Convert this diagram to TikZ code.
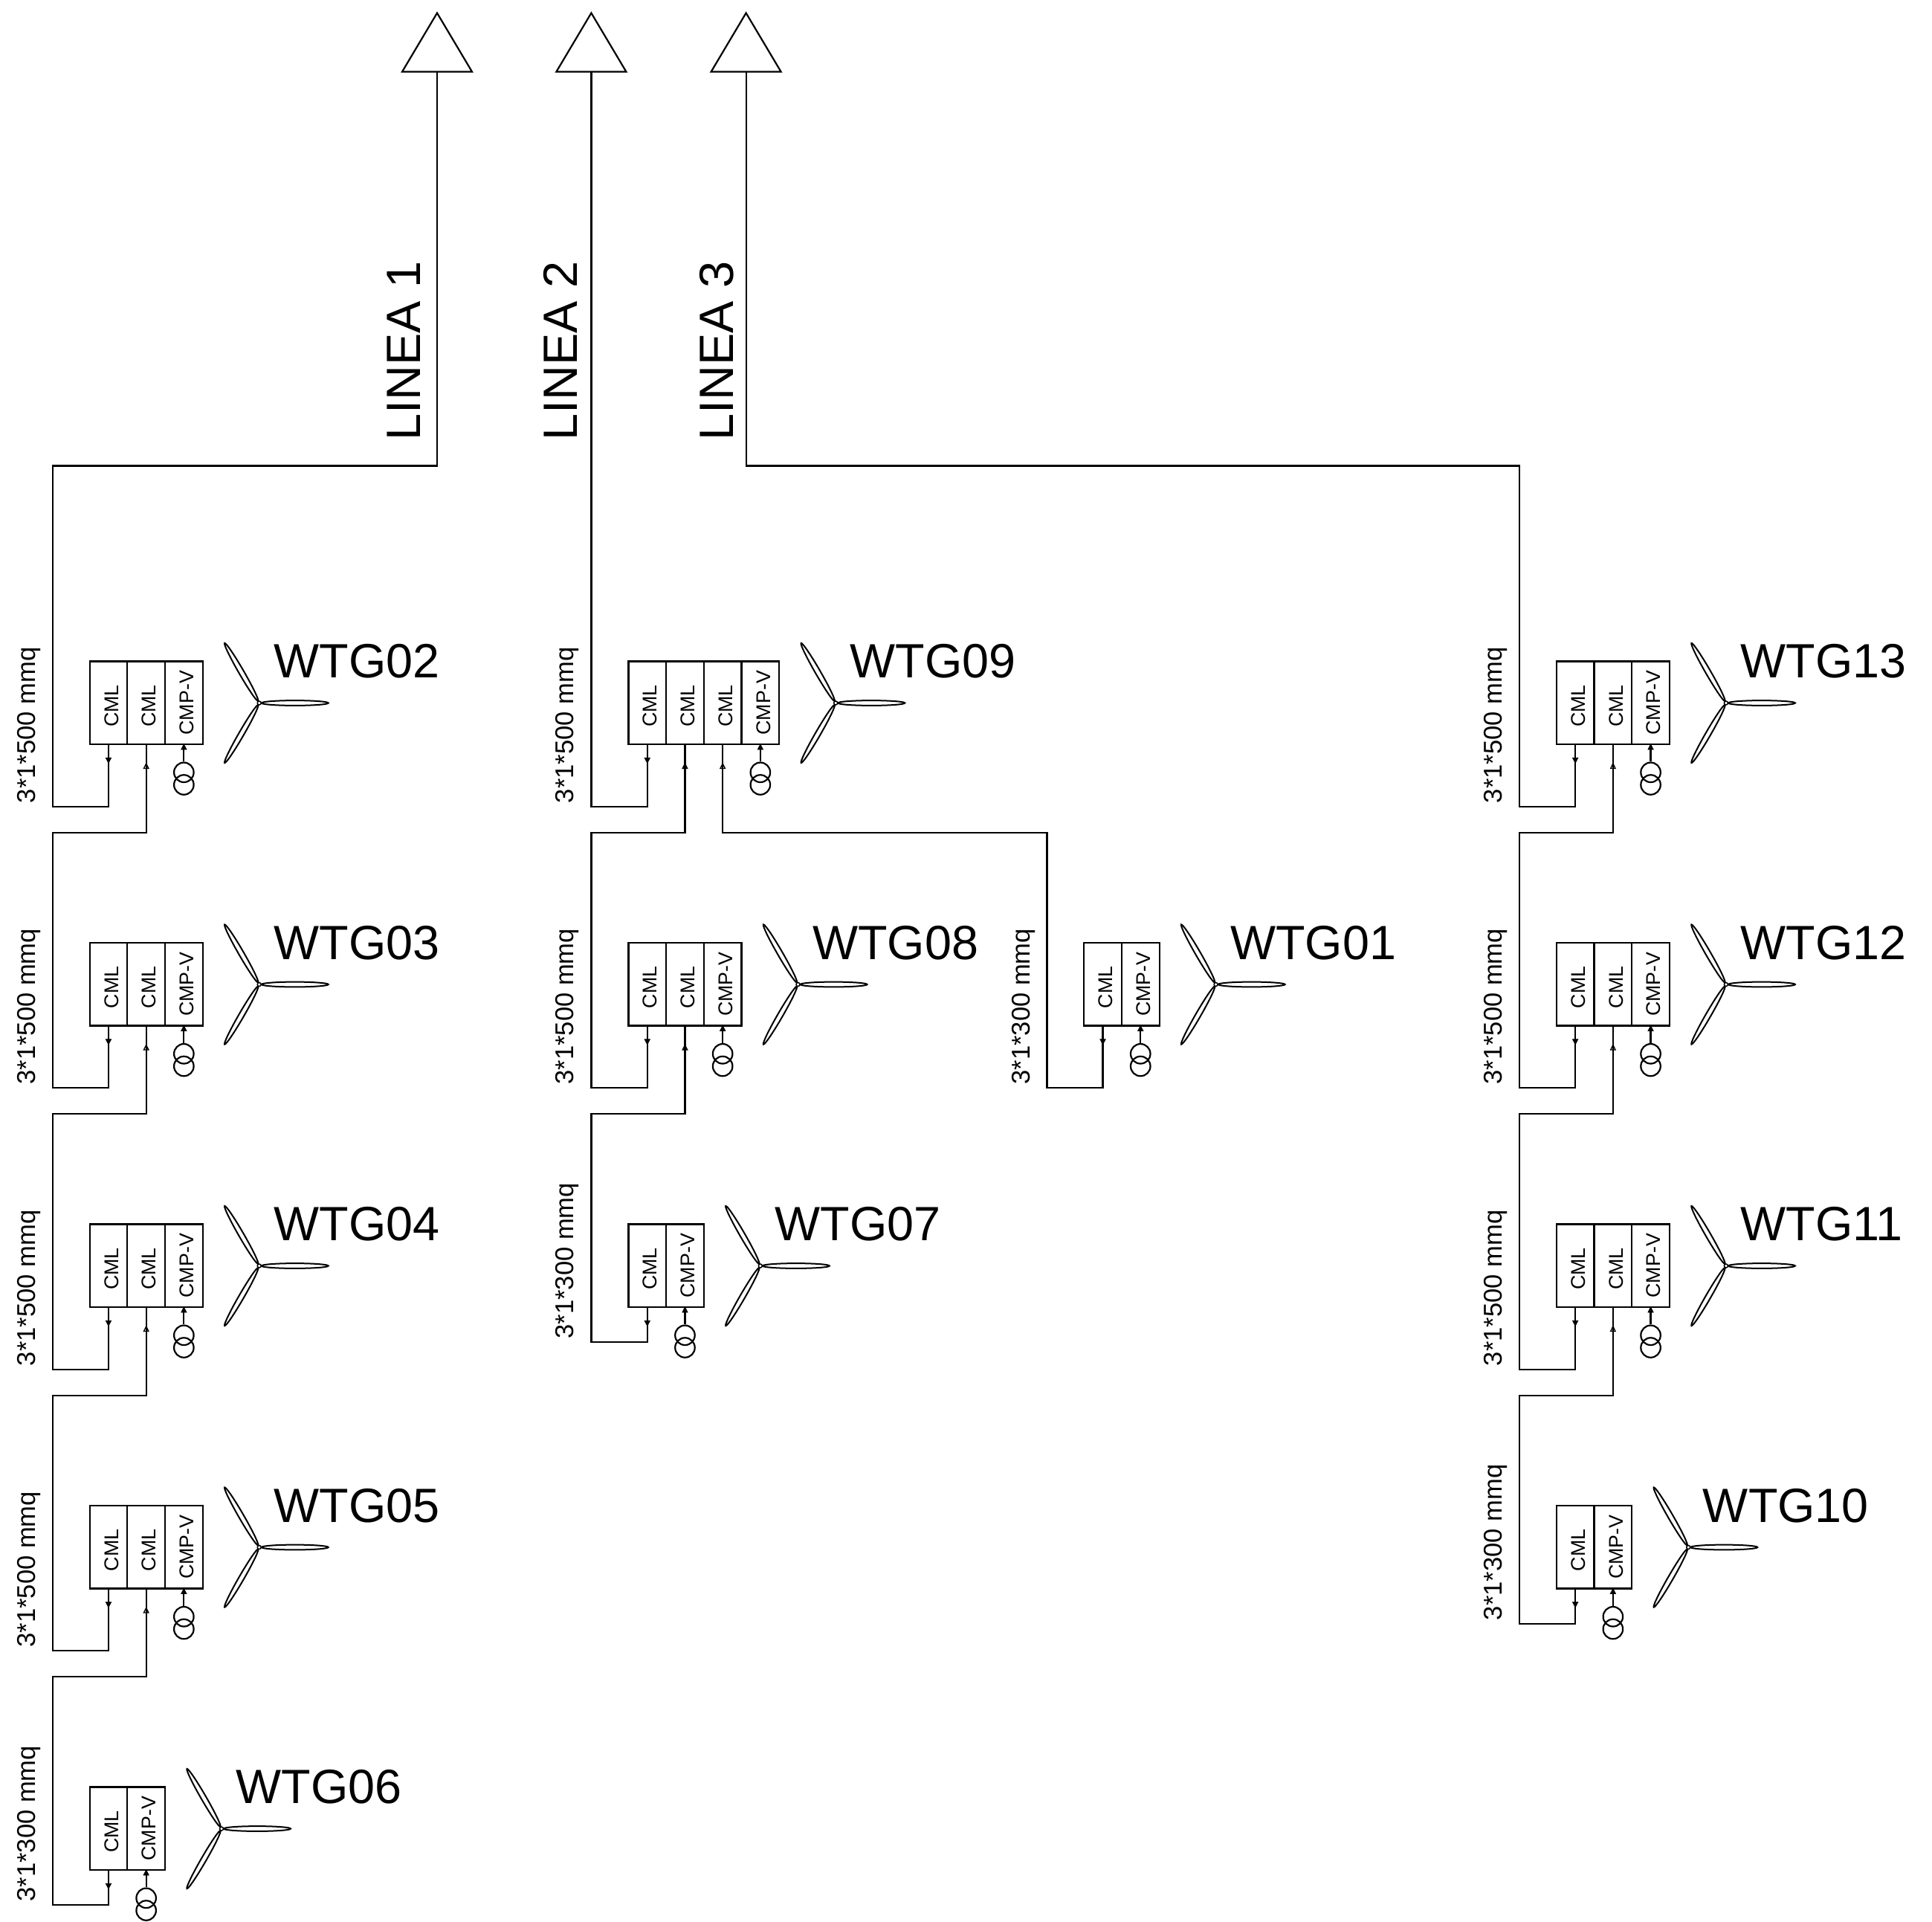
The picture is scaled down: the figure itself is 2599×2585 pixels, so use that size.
\documentclass[tikz,border=0pt]{standalone}
\usepackage{fontspec}
\setmainfont{Liberation Sans}
\tikzset{
  wire/.style={draw=black,line width=2.2pt,line join=miter},
  cellbox/.style={draw=black,line width=2.2pt,rectangle,inner sep=0pt,outer sep=0pt,minimum width=50.7pt,minimum height=111.5pt,anchor=north west},
  celltxt/.style={rotate=90,anchor=base,inner sep=0pt,font=\fontsize{26.8}{27}\selectfont},
  cabletxt/.style={rotate=90,anchor=base west,inner sep=0pt,font=\fontsize{34.6}{36}\selectfont},
  bigtxt/.style={anchor=base west,inner sep=0pt,font=\fontsize{64.7}{65}\selectfont},
  linetxt/.style={rotate=90,anchor=base west,inner sep=0pt,font=\fontsize{64.8}{65}\selectfont},
  hubdot/.style={circle,draw=black,fill=white,line width=1.5pt,inner sep=0pt,minimum size=5pt},
  xfmr/.style={circle,draw=black,line width=2.2pt,inner sep=0pt,minimum size=26.5pt},
  blade/.style={draw=black,line width=2pt,fill=white},
  tipblack/.style={draw=black,fill=black,line width=.8pt},
  tipwhite/.style={draw=black,fill=white,line width=1.4pt}
}
% name, left, top, text shift
\newcommand{\wcell}[4]{%
  \node[cellbox] (#1) at (#2,#3) {};
  \node[celltxt] (#1t) at ([xshift=13.2pt,yshift=#4]#1.center) {\ifdim#4=-4.2pt CML\else CMP-V\fi};
}
% name, left, top, number of CML cells, label
\newcommand{\wtg}[5]{%
  \pgfmathsetmacro{\xa}{#2}
  \pgfmathsetmacro{\xb}{#2+50.7}
  \pgfmathsetmacro{\xc}{#2+101.4}
  \pgfmathsetmacro{\xv}{#2+50.7*#4}
  \pgfmathsetmacro{\xh}{\xv+50.7+76}
  \pgfmathsetmacro{\yh}{#3+56}
  \wcell{#1a}{\xa}{#3}{-4.2pt}
  \ifnum#4>1 \wcell{#1b}{\xb}{#3}{-4.2pt}\fi
  \ifnum#4>2 \wcell{#1c}{\xc}{#3}{-4.2pt}\fi
  \wcell{#1v}{\xv}{#3}{0pt}
  \draw[tipblack] ([yshift=-25.3pt]#1a.south) -- ++(-3.6,-7) -- ++(7.2,0) -- cycle;
  \ifnum#4>1 \draw[tipwhite] ([yshift=-26pt]#1b.south) -- ++(-3.2,6.5) -- ++(6.4,0) -- cycle;\fi
  \ifnum#4>2 \draw[tipwhite] ([yshift=-26pt]#1c.south) -- ++(-3.2,6.5) -- ++(6.4,0) -- cycle;\fi
  \node[xfmr] (#1tb) at ([yshift=-54.5pt]#1v.south) {};
  \node[xfmr] (#1ta) at ([yshift=-37.8pt]#1v.south) {};
  \draw[wire] (#1ta.north) -- (#1v.south);
  \draw[tipblack] (#1v.south) -- ++(-3.6,7) -- ++(7.2,0) -- cycle;
  \draw[blade,shift={(\xh,\yh)}] (48,0) ellipse [x radius=45pt,y radius=3.4pt];
  \draw[blade,shift={(\xh,\yh)},rotate=120] (48,0) ellipse [x radius=45pt,y radius=3.4pt];
  \draw[blade,shift={(\xh,\yh)},rotate=240] (48,0) ellipse [x radius=45pt,y radius=3.4pt];
  \node[hubdot] (#1hub) at (\xh,\yh) {};
  \node[bigtxt] (#1lbl) at ([xshift=19.5pt,yshift=34pt]#1hub.center) {#5};
}
% from cell, to cell, trunk x, y1, y2, label, name
\newcommand{\cable}[7]{%
  \draw[wire] (#1.south) |- (#3,#4) -- (#3,#5) -| (#2.south);
  \node[cabletxt] (#7) at (#3-23.5,#5-4.5) {#6};
}
\begin{document}
\begin{tikzpicture}[x=1pt,y=-1pt]
\useasboundingbox (0,0) rectangle (2599,2585);
\begin{scope}[yshift=-0.5pt]
% Triangles at the top
\foreach \n/\x in {t1/588,t2/795.4,t3/1003.6}{
  \draw[wire] (\x,17) -- (\x+47,96) -- (\x-47,96) -- cycle;
  \coordinate (\n) at (\x,96);
}
\node[linetxt] (lin1) at (565,592) {LINEA 1};
\node[linetxt] (lin2) at (776.3,592) {LINEA 2};
\node[linetxt] (lin3) at (986,592) {LINEA 3};
% Column 1
\wtg{wA}{120.6}{889}{2}{WTG02}
\wtg{wB}{120.6}{1267.5}{2}{WTG03}
\wtg{wC}{120.6}{1646}{2}{WTG04}
\wtg{wD}{120.6}{2024.5}{2}{WTG05}
\wtg{wE}{120.6}{2403}{1}{WTG06}
% Column 2
\wtg{wF}{845.4}{889}{3}{WTG09}
\wtg{wG}{845.4}{1267.5}{2}{WTG08}
\wtg{wH}{845.4}{1646}{1}{WTG07}
\wtg{wI}{1458.2}{1267.5}{1}{WTG01}
% Column 4
\wtg{wJ}{2093.8}{889}{2}{WTG13}
\wtg{wK}{2093.8}{1267.5}{2}{WTG12}
\wtg{wL}{2093.8}{1646}{2}{WTG11}
\wtg{wM}{2093.8}{2024.5}{1}{WTG10}
% Line 1
\draw[wire] (t1) |- (71,626) -- (71,1084.3) -| (wAa.south);
\node[cabletxt] (cA) at (47.5,1079.8) {3*1*500 mmq};
\cable{wAb}{wBa}{71}{1119.3}{1462.8}{3*1*500 mmq}{cB}
\cable{wBb}{wCa}{71}{1497.8}{1841.3}{3*1*500 mmq}{cC}
\cable{wCb}{wDa}{71}{1876.3}{2219.8}{3*1*500 mmq}{cD}
\cable{wDb}{wEa}{71}{2254.8}{2561.7}{3*1*300 mmq}{cE}
% Line 2
\draw[wire] (t2) |- (795.4,1084.3) -| (wFa.south);
\node[cabletxt] (cF) at (771.9,1079.8) {3*1*500 mmq};
\cable{wFb}{wGa}{795.4}{1119.3}{1462.8}{3*1*500 mmq}{cG}
\cable{wGb}{wHa}{795.4}{1497.8}{1804.7}{3*1*300 mmq}{cH}
\cable{wFc}{wIa}{1408.5}{1119.3}{1462.8}{3*1*300 mmq}{cI}
% Line 3
\draw[wire] (t3) |- (2043.8,626) -- (2043.8,1084.3) -| (wJa.south);
\node[cabletxt] (cJ) at (2020.3,1079.8) {3*1*500 mmq};
\cable{wJb}{wKa}{2043.8}{1119.3}{1462.8}{3*1*500 mmq}{cK}
\cable{wKb}{wLa}{2043.8}{1497.8}{1841.3}{3*1*500 mmq}{cL}
\cable{wLb}{wMa}{2043.8}{1876.3}{2183.2}{3*1*300 mmq}{cM}
\end{scope}
\end{tikzpicture}
\end{document}
